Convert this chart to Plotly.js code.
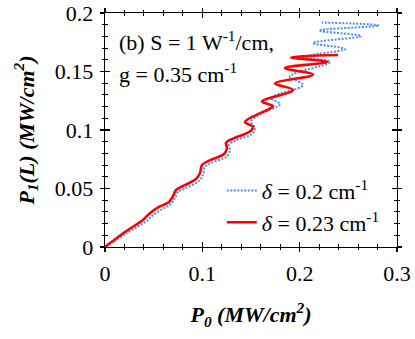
<!DOCTYPE html>
<html>
<head>
    <title>P1(L) vs P0</title>
    <style>
        html, body, #plot {
            height: 100%;
            width: 100%;
            margin: 0;
            padding: 0;
            overflow: hidden;
            background: #ffffff;
        }
    </style>
    <script src="https://cdn.plot.ly/plotly-3.0.1.min.js"></script>
</head>

<body>
<div id="plot"></div>
<script>
    // delta = 0.2 cm^-1 (blue dotted)
    const blueP0 = [0, 0.0226, 0.0421, 0.0483, 0.0575, 0.0678, 0.0719, 0.0750, 0.0822, 0.0966,
        0.1007, 0.1027, 0.1099, 0.1253, 0.1284, 0.1274, 0.1356, 0.1510, 0.1541, 0.1500,
        0.1623, 0.1798, 0.1706, 0.2034, 0.1901, 0.2312, 0.2045, 0.2466, 0.2137, 0.2630,
        0.2199, 0.2815, 0.2229];
    const blueP1 = [0, 0.0120, 0.0218, 0.0265, 0.0316, 0.0368, 0.0419, 0.0470, 0.0500, 0.0564,
        0.0615, 0.0684, 0.0722, 0.0774, 0.0829, 0.0872, 0.0915, 0.0966, 0.1017, 0.1073,
        0.1145, 0.1222, 0.1274, 0.1385, 0.1457, 0.1581, 0.1624, 0.1692, 0.1744, 0.1803,
        0.1850, 0.1893, 0.1919];

    // delta = 0.23 cm^-1 (red solid)
    const redP0 = [0, 0.0205, 0.0390, 0.0452, 0.0545, 0.0658, 0.0699, 0.0729, 0.0791, 0.0935,
        0.0976, 0.0997, 0.1069, 0.1223, 0.1253, 0.1243, 0.1315, 0.1480, 0.1521, 0.1438,
        0.1551, 0.1675, 0.1726, 0.1613, 0.1932, 0.1747, 0.2137, 0.1849, 0.2281, 0.1911,
        0.2394];
    const redP1 = [0, 0.0128, 0.0231, 0.0282, 0.0338, 0.0385, 0.0436, 0.0487, 0.0517, 0.0581,
        0.0632, 0.0701, 0.0739, 0.0795, 0.0846, 0.0889, 0.0927, 0.0983, 0.1026, 0.1068,
        0.1128, 0.1175, 0.1205, 0.1244, 0.1342, 0.1397, 0.1474, 0.1530, 0.1581, 0.1620,
        0.1641];

    const seriesNames = ['<i>δ</i> = 0.2 cm<sup>-1</sup>', '<i>δ</i> = 0.23 cm<sup>-1</sup>'];
    const xTickVals = [0, 0.1, 0.2, 0.3];
    const yTickVals = [0, 0.05, 0.1, 0.15, 0.2];

    const serif = '"Liberation Serif", "Times New Roman", Times, serif';

    function makePlot() {
        const traceBlue = {
            x: blueP0,
            y: blueP1,
            name: seriesNames[0],
            mode: 'lines',
            type: 'scatter',
            legendgroup: 'a',
            line: {color: '#4f8bf5', width: 2, dash: '2px,1.5px', shape: 'spline', smoothing: 1}
        };
        const traceRed = {
            x: redP0,
            y: redP1,
            name: seriesNames[1],
            mode: 'lines',
            type: 'scatter',
            legendgroup: 'b',
            line: {color: '#ff0000', width: 2.6, shape: 'spline', smoothing: 1}
        };
        // empty trace so the overlay axes (outer half of the crossing ticks) get drawn
        const traceTicks = {
            x: [], y: [], xaxis: 'x2', yaxis: 'y2', showlegend: false, hoverinfo: 'skip'
        };

        const baseAxis = {
            showline: true,
            linewidth: 1.3,
            linecolor: '#000',
            mirror: 'allticks',
            showgrid: false,
            zeroline: false,
            tickcolor: '#000',
            tickwidth: 1.3
        };

        const layout = {
            width: 415,
            height: 339,
            margin: {l: 105, r: 18, t: 13, b: 92, pad: 0},
            paper_bgcolor: '#fff',
            plot_bgcolor: '#fff',
            font: {family: serif, size: 22, color: '#000'},
            showlegend: true,
            xaxis: Object.assign({}, baseAxis, {
                range: [0, 0.3],
                tickvals: xTickVals,
                ticks: 'inside',
                ticklen: 5,
                minor: {dtick: 0.02, ticks: 'inside', ticklen: 3, tickcolor: '#000', tickwidth: 1.1},
                ticklabelstandoff: 6,
                tickfont: {family: serif, size: 22},
                title: {
                    text: '<b><i>P<sub>0</sub> (MW/cm<sup>2</sup>)</i></b>',
                    font: {family: serif, size: 22},
                    standoff: 22
                }
            }),
            yaxis: Object.assign({}, baseAxis, {
                range: [0, 0.2],
                tickvals: yTickVals,
                ticks: 'inside',
                ticklen: 5,
                minor: {dtick: 0.01, ticks: 'inside', ticklen: 3, tickcolor: '#000', tickwidth: 1.1},
                ticklabelstandoff: 6,
                tickfont: {family: serif, size: 22},
                title: {
                    text: '<b><i>P<sub>1</sub>(L) (MW/cm<sup>2</sup>)</i></b>',
                    font: {family: serif, size: 22},
                    standoff: 14
                }
            }),
            xaxis2: Object.assign({}, baseAxis, {
                overlaying: 'x',
                anchor: 'y2',
                range: [0, 0.3],
                tickvals: xTickVals,
                ticks: 'outside',
                ticklen: 4,
                minor: {dtick: 0.02, ticks: 'outside', ticklen: 2, tickcolor: '#000', tickwidth: 1.1},
                showticklabels: false
            }),
            yaxis2: Object.assign({}, baseAxis, {
                overlaying: 'y',
                anchor: 'x2',
                range: [0, 0.2],
                tickvals: yTickVals,
                ticks: 'outside',
                ticklen: 4,
                minor: {dtick: 0.01, ticks: 'outside', ticklen: 2, tickcolor: '#000', tickwidth: 1.1},
                showticklabels: false
            }),
            legend: {
                x: 0.40,
                y: 0.33,
                xanchor: 'left',
                yanchor: 'top',
                bgcolor: 'rgba(0,0,0,0)',
                borderwidth: 0,
                font: {family: serif, size: 22},
                traceorder: 'normal',
                tracegroupgap: 4
            },
            annotations: [
                {
                    text: '(b) S = 1 W<sup>-1</sup>/cm,',
                    xref: 'paper', yref: 'paper',
                    x: 0.04, y: 0.88,
                    xanchor: 'left', yanchor: 'middle',
                    showarrow: false,
                    font: {family: serif, size: 22}
                },
                {
                    text: 'g = 0.35 cm<sup>-1</sup>',
                    xref: 'paper', yref: 'paper',
                    x: 0.04, y: 0.745,
                    xanchor: 'left', yanchor: 'middle',
                    showarrow: false,
                    font: {family: serif, size: 22}
                }
            ]
        };

        Plotly.newPlot('plot', [traceBlue, traceRed, traceTicks], layout, {displayModeBar: false, staticPlot: true});
    }

    document.addEventListener('DOMContentLoaded', function () {
        makePlot();
    });
</script>
</body>
</html>
